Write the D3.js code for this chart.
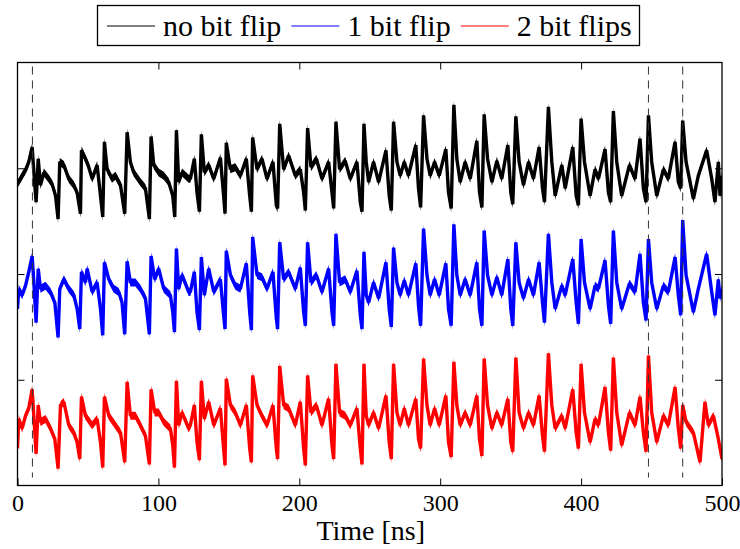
<!DOCTYPE html>
<html lang="en">
<head>
  <meta charset="UTF-8"/>
  <title>Bit flip traces</title>
  <script src="https://d3js.org/d3.v7.min.js"></script>
  <style>
    body { margin: 0; background: #fff; }
    text { font-family: "Liberation Serif", "Times New Roman", serif; fill: #000; }
  </style>
</head>
<body>
<script>

// series names + colours
var seriesNames = ["no bit flip", "1 bit flip", "2 bit flips"];
var seriesColors = ["#000000", "#0000ff", "#ff0000"];

// x tick labels (ns) and dashed marker times (ns)
var xTicks = [0, 100, 200, 300, 400, 500];
var yTicks = [1, 2, 3];
var markers = [10.6, 447.8, 472.1];

// trace values (time in ns, amplitude in a.u.)
var tNo = [0, 0.9, 3.3, 5.7, 8.0, 10.4, 12.1, 13.2, 14.7, 16.3, 18.7, 22.2, 24.6, 27.0, 28.8, 30.0, 32.9, 36.4, 40.0, 42.3, 44.7, 45.4, 48.2, 50.1, 53.0, 56.5, 58.9, 60.5, 61.7, 63.6, 67.1, 69.5, 73.1, 76.1, 77.8, 80.1, 82.5, 87.2, 90.8, 93.6, 94.8, 96.7, 100.2, 103.8, 107.3, 110.2, 111.6, 112.8, 114.4, 116.8, 121.5,
  122.7, 125.5, 127.4, 129.1, 130.5, 132.6, 135.7, 139.3, 144.0, 146.3, 147.3, 148.2, 151.1, 154.6, 158.2, 162.4, 164.8, 166.0, 166.9, 170.0, 173.5, 177.1, 181.3, 183.7, 184.6, 186.1, 188.9, 192.4, 197.2, 200.7, 203.1, 204.3, 205.9, 208.3, 212.1, 216.1, 220.8, 223.2, 224.4, 226.0, 228.6, 232.6, 236.2, 240.9, 243.3, 244.5, 245.9,
  247.5, 249.2, 252.7, 256.3, 261.5, 263.8, 265.3, 266.9, 269.3, 271.6, 274.5, 277.5, 282.7, 284.6, 286.1, 288.2, 290.6, 292.9, 296.0, 299.3, 304.0, 305.9, 307.8, 309.7, 311.8, 314.2, 317.7, 321.3, 326.0, 327.9, 329.6, 331.2, 333.6, 336.7, 340.2, 343.7, 348.0, 350.1, 351.5, 353.7, 356.0, 359.1, 362.7, 366.2, 370.2, 372.6, 374.0,
  376.8, 379.2, 381.6, 386.3, 388.7, 394.1, 396.5, 398.1, 400.0, 402.4, 406.4, 409.9, 412.3, 417.0, 419.4, 421.0, 422.9, 425.3, 428.8, 434.3, 438.3, 441.8, 444.2, 446.1, 447.8, 450.1, 453.7, 458.4, 461.9, 466.7, 469.0, 470.7, 472.1, 474.5, 479.7, 483.2, 489.1, 492.7, 495.0, 497.4, 498.6, 500.0];
var vNo = [2.86, 2.87, 2.93, 2.98, 3.06, 3.20, 2.87, 2.68, 3.09, 2.84, 2.96, 2.90, 2.85, 2.74, 2.52, 3.06, 3.03, 2.90, 2.84, 2.77, 2.57, 3.17, 3.09, 3.03, 2.90, 3.03, 2.74, 2.54, 3.25, 2.99, 2.90, 2.93, 2.84, 2.57, 3.34, 3.06, 2.96, 2.87, 2.81, 2.52, 3.30, 3.03, 2.96, 2.93, 2.87, 2.74, 2.54, 3.36, 2.87, 2.96, 2.90,
  2.90, 3.09, 2.77, 2.59, 3.32, 2.96, 3.03, 2.90, 3.10, 2.74, 2.57, 3.24, 2.99, 3.01, 2.93, 3.09, 2.74, 2.59, 3.29, 2.99, 3.09, 2.90, 3.06, 2.65, 2.62, 3.42, 2.99, 3.12, 2.93, 2.99, 2.77, 2.60, 3.38, 3.01, 3.09, 2.90, 3.06, 2.77, 2.62, 3.44, 2.99, 3.07, 2.90, 3.06, 2.68, 2.59, 3.42,
  3.06, 2.87, 3.06, 2.87, 3.17, 2.74, 2.60, 3.44, 3.06, 2.93, 3.06, 2.93, 3.22, 2.81, 2.63, 3.50, 3.09, 2.93, 3.06, 2.93, 3.18, 2.77, 2.62, 3.60, 3.09, 2.87, 3.06, 2.90, 3.26, 2.77, 2.63, 3.51, 3.09, 2.87, 3.07, 2.90, 3.22, 2.77, 2.66, 3.49, 3.06, 2.84, 3.06, 2.90, 3.20, 2.81, 2.68,
  3.58, 3.06, 2.74, 3.03, 2.81, 3.20, 2.74, 2.65, 3.47, 3.06, 2.74, 2.99, 2.90, 3.18, 2.77, 2.68, 3.54, 3.06, 2.74, 3.03, 2.90, 3.28, 2.81, 2.68, 3.50, 3.06, 2.74, 2.99, 2.90, 3.25, 2.87, 2.81, 3.45, 3.06, 2.71, 2.93, 3.17, 2.90, 2.68, 3.06, 2.74, 2.93];

var tOne = [0, 0.9, 3.3, 5.7, 8.0, 10.4, 11.6, 13.2, 14.7, 16.3, 19.9, 23.4, 26.5, 28.8, 30.0, 32.9, 36.4, 40.0, 42.3, 44.2, 45.4, 48.2, 49.4, 53.0, 56.5, 58.9, 60.5, 61.7, 64.8, 68.3, 71.9, 74.2, 76.1, 77.8, 80.1, 83.7, 87.2, 90.8, 93.6, 94.8, 97.4, 100.2, 103.8, 108.5, 110.2, 111.4, 112.8, 114.4, 116.8, 121.5,
  122.7, 125.5, 127.4, 129.1, 130.5, 132.6, 135.7, 139.3, 144.0, 146.3, 147.3, 148.2, 151.1, 154.6, 158.2, 162.4, 164.8, 166.0, 166.9, 170.0, 173.5, 177.1, 181.3, 183.7, 184.6, 186.1, 188.9, 192.4, 197.2, 200.7, 203.1, 204.3, 205.9, 208.3, 212.1, 216.1, 220.8, 223.2, 224.4, 226.0, 228.6, 232.6, 236.2, 240.9, 243.3, 244.5, 245.9,
  247.5, 249.2, 252.7, 256.3, 261.5, 263.8, 265.3, 266.9, 269.3, 271.6, 274.5, 277.5, 282.7, 284.6, 286.1, 288.2, 290.6, 292.9, 296.0, 299.3, 304.0, 305.9, 307.8, 309.7, 311.8, 314.2, 317.7, 321.3, 326.0, 327.9, 329.6, 331.2, 333.6, 336.7, 340.2, 343.7, 348.0, 350.1, 351.5, 353.7, 356.0, 359.1, 362.7, 366.2, 370.2, 372.6, 374.0,
  376.8, 379.2, 381.6, 386.3, 388.7, 394.1, 396.5, 398.1, 400.0, 402.4, 406.4, 409.9, 412.3, 417.0, 419.4, 421.0, 422.9, 425.3, 428.8, 434.3, 438.3, 441.8, 444.2, 446.1, 447.8, 450.1, 453.7, 458.4, 461.9, 466.7, 469.0, 470.7, 472.1, 474.5, 479.7, 483.2, 489.1, 492.7, 495.0, 497.4, 498.6, 500.0];
var vOne = [1.67, 1.86, 1.80, 1.89, 2.02, 2.17, 1.92, 1.54, 2.05, 1.86, 1.89, 1.83, 1.73, 1.40, 1.86, 1.95, 1.86, 1.80, 1.67, 1.48, 2.02, 1.92, 2.05, 1.83, 1.92, 1.67, 1.42, 2.11, 1.95, 1.86, 1.83, 1.73, 1.43, 2.12, 1.92, 1.92, 1.86, 1.77, 1.43, 2.17, 1.95, 2.05, 1.86, 1.80, 1.64, 1.45, 2.24, 1.86, 1.99, 1.83,
  1.83, 2.02, 1.64, 1.47, 2.16, 1.80, 2.05, 1.83, 1.95, 1.61, 1.48, 2.22, 1.99, 1.89, 1.86, 2.10, 1.64, 1.47, 2.35, 1.99, 1.97, 1.86, 2.02, 1.58, 1.48, 2.30, 1.95, 2.02, 1.86, 2.06, 1.64, 1.51, 2.30, 1.92, 1.99, 1.83, 2.05, 1.64, 1.51, 2.38, 1.92, 1.95, 1.83, 2.03, 1.61, 1.48, 2.21,
  1.80, 1.73, 1.92, 1.77, 2.11, 1.67, 1.50, 2.25, 1.92, 1.80, 1.94, 1.80, 2.10, 1.70, 1.51, 2.43, 1.99, 1.80, 1.95, 1.80, 2.10, 1.67, 1.51, 2.47, 1.99, 1.80, 1.95, 1.80, 2.11, 1.67, 1.51, 2.41, 1.99, 1.80, 1.97, 1.80, 2.14, 1.67, 1.51, 2.30, 1.92, 1.77, 1.95, 1.80, 2.11, 1.73, 1.54,
  2.38, 1.92, 1.67, 1.89, 1.80, 2.14, 1.73, 1.53, 2.33, 1.92, 1.67, 1.89, 1.86, 2.13, 1.70, 1.53, 2.41, 1.92, 1.67, 1.91, 1.83, 2.19, 1.73, 1.56, 2.33, 1.92, 1.67, 1.89, 1.83, 2.16, 1.80, 1.61, 2.51, 1.99, 1.64, 1.86, 2.19, 1.83, 1.61, 1.95, 1.77, 1.86];

var tTwo = [0, 0.9, 3.3, 5.7, 8.0, 10.4, 12.1, 13.2, 14.7, 16.3, 19.9, 23.4, 26.5, 28.8, 30.5, 32.9, 36.4, 40.0, 42.3, 44.2, 45.4, 48.2, 53.0, 56.5, 58.9, 60.5, 61.7, 64.8, 69.5, 73.1, 76.1, 77.8, 80.1, 83.7, 87.2, 90.8, 93.6, 94.8, 97.4, 100.2, 103.8, 108.5, 110.2, 111.4, 112.8, 114.4, 116.8, 121.5,
  122.7, 125.5, 127.4, 129.1, 130.5, 132.6, 135.7, 139.3, 144.0, 146.3, 147.3, 148.2, 151.1, 154.6, 158.2, 162.4, 164.8, 166.0, 166.9, 170.0, 173.5, 177.1, 181.3, 183.7, 184.6, 186.1, 188.9, 192.4, 197.2, 200.7, 203.1, 204.3, 205.9, 208.3, 212.1, 216.1, 220.8, 223.2, 224.4, 226.0, 228.6, 232.6, 236.2, 240.9, 243.3, 244.5, 245.9,
  247.5, 249.2, 252.7, 256.3, 261.5, 263.8, 265.3, 266.9, 269.3, 271.6, 274.5, 277.5, 282.7, 284.6, 286.1, 288.2, 290.6, 292.9, 296.0, 299.3, 304.0, 305.9, 307.8, 309.7, 311.8, 314.2, 317.7, 321.3, 326.0, 327.9, 329.6, 331.2, 333.6, 336.7, 340.2, 343.7, 348.0, 350.1, 351.5, 353.7, 356.0, 359.1, 362.7, 366.2, 370.2, 372.6, 374.0,
  376.8, 379.2, 381.6, 386.3, 388.7, 394.1, 396.5, 398.1, 400.0, 402.4, 406.4, 409.9, 412.3, 417.0, 419.4, 421.0, 422.9, 425.3, 428.8, 434.3, 438.3, 441.8, 444.2, 446.1, 447.8, 450.1, 453.7, 458.4, 461.9, 466.7, 469.0, 470.7, 472.1, 474.5, 479.7, 484.4, 487.9, 490.3, 493.9, 497.4, 500.0];
var vTwo = [0.35, 0.63, 0.54, 0.66, 0.73, 0.91, 0.54, 0.30, 0.76, 0.60, 0.63, 0.54, 0.44, 0.16, 0.76, 0.79, 0.57, 0.50, 0.41, 0.25, 0.84, 0.66, 0.57, 0.63, 0.41, 0.17, 0.84, 0.66, 0.57, 0.50, 0.22, 0.98, 0.66, 0.66, 0.57, 0.47, 0.20, 0.91, 0.69, 0.69, 0.60, 0.54, 0.38, 0.17, 0.99, 0.57, 0.69, 0.54,
  0.57, 0.76, 0.41, 0.24, 0.99, 0.63, 0.79, 0.57, 0.73, 0.35, 0.19, 1.01, 0.76, 0.69, 0.57, 0.76, 0.35, 0.22, 1.04, 0.76, 0.66, 0.57, 0.76, 0.35, 0.25, 1.13, 0.76, 0.73, 0.57, 0.79, 0.35, 0.19, 1.04, 0.69, 0.76, 0.57, 0.82, 0.38, 0.25, 1.15, 0.69, 0.66, 0.57, 0.73, 0.35, 0.20, 1.15,
  0.66, 0.57, 0.69, 0.54, 0.85, 0.41, 0.25, 1.15, 0.69, 0.57, 0.73, 0.57, 0.82, 0.44, 0.35, 1.20, 0.76, 0.57, 0.73, 0.57, 0.85, 0.41, 0.27, 1.17, 0.76, 0.57, 0.69, 0.57, 0.85, 0.44, 0.28, 1.20, 0.76, 0.54, 0.69, 0.57, 0.82, 0.41, 0.32, 1.21, 0.69, 0.54, 0.69, 0.57, 0.85, 0.47, 0.32,
  1.25, 0.76, 0.54, 0.66, 0.54, 0.91, 0.50, 0.35, 1.15, 0.69, 0.41, 0.63, 0.57, 0.93, 0.50, 0.33, 1.21, 0.69, 0.38, 0.69, 0.57, 0.84, 0.50, 0.32, 1.23, 0.69, 0.41, 0.66, 0.57, 0.93, 0.54, 0.35, 0.76, 0.60, 0.50, 0.22, 0.79, 0.57, 0.66, 0.44, 0.25];

var traces = [d3.zip(tNo, vNo), d3.zip(tOne, vOne), d3.zip(tTwo, vTwo)];

var w = 740;
var h = 549;
var padL = 17.5, padR = 722, padT = 62.5, padB = 485.5;
var band = 4;   // half thickness (px) of the noise band

var svg = d3.select("body")
            .append("svg")
            .attr("width", w)
            .attr("height", h);

var xScale = d3.scaleLinear()
               .domain([0, 500])
               .range([padL, padR]);

var yScale = d3.scaleLinear()
               .domain([0, 4])
               .range([padB, padT]);

svg.append("clipPath")
   .attr("id", "plotclip")
   .append("rect")
   .attr("x", padL)
   .attr("y", padT)
   .attr("width", padR - padL)
   .attr("height", padB - padT);

var line = d3.line()
             .x(function(d) { return xScale(d[0]); })
             .y(function(d) { return yScale(d[1]); });

// thick band so flat parts look noisy and spikes stay thin
var area = d3.area()
             .x(function(d) { return xScale(d[0]); })
             .y0(function(d) { return yScale(d[1]) + band; })
             .y1(function(d) { return yScale(d[1]) - band; });

var plot = svg.append("g").attr("clip-path", "url(#plotclip)");

plot.selectAll("path.band")
   .data(traces)
   .enter()
   .append("path")
   .attr("class", "band")
   .attr("d", area)
   .attr("fill", function(d, i) { return seriesColors[i]; });

plot.selectAll("path.trace")
   .data(traces)
   .enter()
   .append("path")
   .attr("class", "trace")
   .attr("d", line)
   .attr("fill", "none")
   .attr("stroke", function(d, i) { return seriesColors[i]; })
   .attr("stroke-width", 3.4)
   .attr("stroke-linejoin", "bevel");

// dashed markers
svg.selectAll("line.marker")
   .data(markers)
   .enter()
   .append("line")
   .attr("class", "marker")
   .attr("x1", function(d) { return xScale(d); })
   .attr("x2", function(d) { return xScale(d); })
   .attr("y1", padT + 4)
   .attr("y2", padB - 8)
   .attr("stroke", "#333")
   .attr("stroke-width", 1)
   .attr("stroke-dasharray", "8,6");

// axes: ticks point inwards on all sides
var xAxisB = d3.axisBottom(xScale).tickValues(xTicks).tickSizeInner(-7).tickSizeOuter(0).tickPadding(8);
var xAxisT = d3.axisTop(xScale).tickValues(xTicks.slice(1, 5)).tickSizeInner(-7).tickSizeOuter(0).tickFormat("");
var yAxisL = d3.axisLeft(yScale).tickValues(yTicks).tickSizeInner(-7).tickSizeOuter(0).tickFormat("");
var yAxisR = d3.axisRight(yScale).tickValues(yTicks).tickSizeInner(-7).tickSizeOuter(0).tickFormat("");

var gx = svg.append("g").attr("transform", "translate(0," + padB + ")").call(xAxisB);
svg.append("g").attr("transform", "translate(0," + padT + ")").call(xAxisT);
svg.append("g").attr("transform", "translate(" + padL + ",0)").call(yAxisL);
svg.append("g").attr("transform", "translate(" + padR + ",0)").call(yAxisR);

svg.selectAll(".domain").remove();
svg.selectAll(".tick line").attr("stroke", "#000").attr("stroke-width", 1);
gx.selectAll(".tick text")
  .style("font-size", "24px")
  .style("font-family", "'Liberation Serif', 'Times New Roman', serif")
  .attr("fill", "#000");

// frame
svg.append("rect")
   .attr("x", padL)
   .attr("y", padT)
   .attr("width", padR - padL)
   .attr("height", padB - padT)
   .attr("fill", "none")
   .attr("stroke", "#000")
   .attr("stroke-width", 1.3);

svg.append("text")
   .attr("x", (padL + padR) / 2 + 1)
   .attr("y", 540)
   .attr("text-anchor", "middle")
   .style("font-size", "28px")
   .text("Time [ns]");

// legend
var legend = svg.append("g");
legend.append("rect")
      .attr("x", 97.5)
      .attr("y", 5.5)
      .attr("width", 542)
      .attr("height", 40)
      .attr("fill", "#fff")
      .attr("stroke", "#000")
      .attr("stroke-width", 1.3);

var lx = 107;
seriesNames.forEach(function(name, i) {
  legend.append("line")
        .attr("x1", lx)
        .attr("x2", lx + 48)
        .attr("y1", 26)
        .attr("y2", 26)
        .attr("stroke", seriesColors[i])
        .attr("stroke-width", 1);
  var t = legend.append("text")
        .attr("x", lx + 56)
        .attr("y", 36)
        .style("font-size", "30px")
        .text(name);
  lx = lx + 56 + t.node().getComputedTextLength() + 10;
});

</script>
</body>
</html>
